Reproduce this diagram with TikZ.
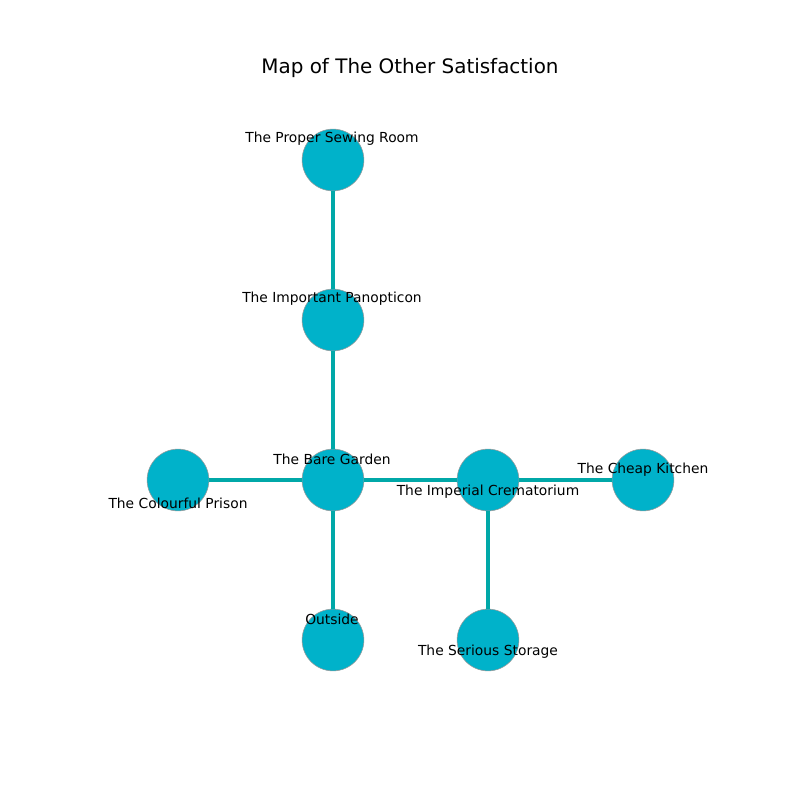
\documentclass[tikz,border=0pt]{standalone}
\usepackage{fontspec}
\setmainfont{DejaVu Sans}
\usepackage{tikz}

\definecolor{roomfill}{RGB}{0,178,202}
\definecolor{corridor}{RGB}{0,168,168}

\begin{document}
\begin{tikzpicture}[x=0.254mm, y=-0.254mm,
    room/.style={circle, fill=roomfill, draw=gray!80, line width=0.4pt, minimum size=15.7mm, inner sep=0pt},
    link/.style={draw=corridor, line width=3.3pt},
    tag/.style={font=\fontsize{10}{12}\selectfont, inner sep=0pt}]

    \useasboundingbox (0, 0) rectangle (800, 800);
    \node[font=\fontsize{14.4}{17}\selectfont] (title) at (410, 68) {Map of The Other Satisfaction};

    \node[room] (sewing) at (333, 160) {};
    \node[room] (panopticon) at (333, 320) {};
    \node[room] (garden) at (333, 480) {};
    \node[room] (prison) at (178, 480) {};
    \node[room] (crematorium) at (488, 480) {};
    \node[room] (kitchen) at (643, 480) {};
    \node[room] (outside) at (333, 640) {};
    \node[room] (storage) at (488, 640) {};

    \draw[link] (sewing) -- (panopticon);
    \draw[link] (panopticon) -- (garden);
    \draw[link] (garden) -- (prison);
    \draw[link] (garden) -- (crematorium);
    \draw[link] (crematorium) -- (kitchen);
    \draw[link] (garden) -- (outside);
    \draw[link] (crematorium) -- (storage);

    \node[tag] (t1) at (332, 139) {The Proper Sewing Room};
    \node[tag] (t2) at (332, 299) {The Important Panopticon};
    \node[tag] (t3) at (332, 459) {The Bare Garden};
    \node[tag] (t4) at (178, 503) {The Colourful Prison};
    \node[tag] (t5) at (488, 492) {The Imperial Crematorium};
    \node[tag] (t6) at (643, 470) {The Cheap Kitchen};
    \node[tag] (t7) at (332, 619) {Outside};
    \node[tag] (t8) at (488, 652) {The Serious Storage};
\end{tikzpicture}
\end{document}
